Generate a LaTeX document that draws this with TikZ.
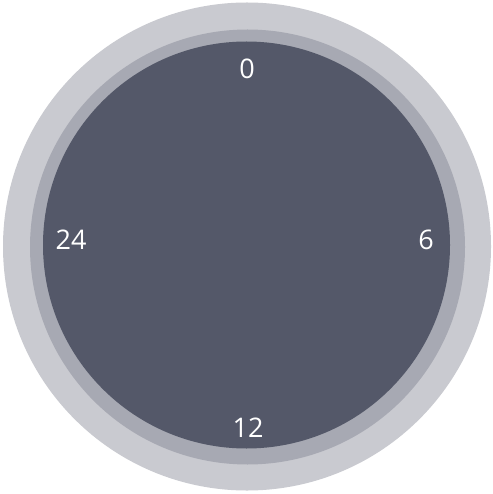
\documentclass[tikz,border=0pt]{standalone}
\usepackage{fontspec}
\setmainfont{Open Sans}
\definecolor{outerc}{HTML}{C9CAD0}
\definecolor{midc}{HTML}{A7A9B3}
\definecolor{innerc}{HTML}{545869}
\begin{document}
\begin{tikzpicture}[x=1pt,y=-1pt,
  lbl/.style={text=white,font=\fontsize{27}{31}\selectfont,inner sep=0pt}]
\useasboundingbox (0,0) rectangle (492,494);
\fill[outerc] (247,246.5) circle (244);
\fill[midc] (247.5,247) circle (217.5);
\fill[innerc] (246.5,245) circle (203.5);
\node[lbl] (n0) at (247,69) {0};
\node[lbl] (n6) at (426,240) {6};
\node[lbl] (n12) at (248,428) {12};
\node[lbl] (n24) at (71,240) {24};
\end{tikzpicture}
\end{document}
